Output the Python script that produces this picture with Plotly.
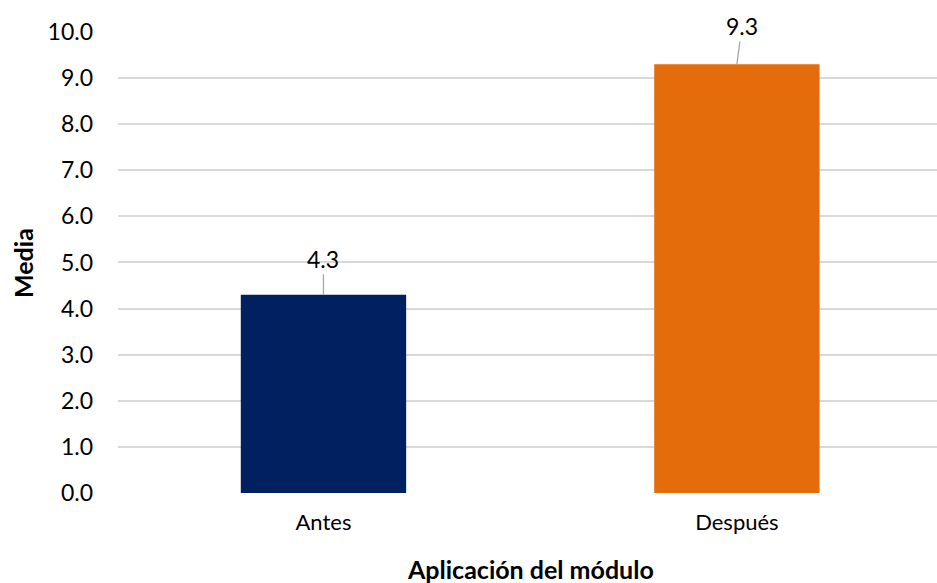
import plotly.graph_objects as go

# Mean score before and after applying the module
categories = ["Antes", "Después"]
values = [4.3, 9.3]
bar_colors = ["#002060", "#E46C0A"]
y_ticks = [0, 1, 2, 3, 4, 5, 6, 7, 8, 9, 10]
y_tick_text = [f"{v:.1f}" for v in y_ticks]

FONT = "Lato, Calibri, Carlito, sans-serif"
W, H = 937, 583
ML, MR, MT, MB = 118, 0, 31, 90

fig = go.Figure(
    go.Bar(
        x=[0, 1],
        y=values,
        width=0.4,
        marker=dict(color=bar_colors, line=dict(width=0)),
        hoverinfo="skip",
    )
)

# value labels with grey leader lines
offsets = [(0, -36), (5, -38)]
for i, (v, (ax, ay)) in enumerate(zip(values, offsets)):
    fig.add_annotation(
        x=i, y=v, xref="x", yref="y",
        text=f"{v:.1f}",
        showarrow=True, arrowhead=0, arrowwidth=1.3, arrowcolor="#A6A6A6",
        ax=ax, ay=ay, standoff=0,
        font=dict(family=FONT, size=23, color="#000000"),
    )

plot_w = W - ML - MR
plot_h = H - MT - MB
# axis titles
fig.add_annotation(
    x=(530 - ML) / plot_w, y=-(569 - (H - MB)) / plot_h,
    xref="paper", yref="paper", xanchor="center", yanchor="middle",
    text="<b>Aplicación del módulo</b>",
    showarrow=False, font=dict(family=FONT, size=25, color="#000000"),
)
fig.add_annotation(
    x=(23 - ML) / plot_w, y=((H - MB) - 263) / plot_h,
    xref="paper", yref="paper", xanchor="center", yanchor="middle",
    text="<b>Media</b>", textangle=-90,
    showarrow=False, font=dict(family=FONT, size=25, color="#000000"),
)

fig.update_layout(
    width=W, height=H,
    margin=dict(l=ML, r=MR, t=MT, b=MB, pad=0),
    paper_bgcolor="#FFFFFF", plot_bgcolor="#FFFFFF",
    showlegend=False,
    font=dict(family=FONT, size=22, color="#000000"),
    bargap=0.6,
)
fig.update_xaxes(
    range=[-0.497, 1.484],
    tickmode="array", tickvals=[0, 1], ticktext=categories,
    showgrid=False, zeroline=False, showline=False,
    ticks="", ticklabelstandoff=14,
    tickfont=dict(family=FONT, size=22, color="#000000"),
)
fig.update_yaxes(
    range=[0, 10.02],
    tickmode="array", tickvals=y_ticks, ticktext=y_tick_text,
    showgrid=True, gridcolor="#D9D9D9", gridwidth=1.5,
    zeroline=False, showline=False,
    ticks="", ticklabelstandoff=24,
    tickfont=dict(family=FONT, size=23, color="#000000"),
)

fig.write_html("out.html")
